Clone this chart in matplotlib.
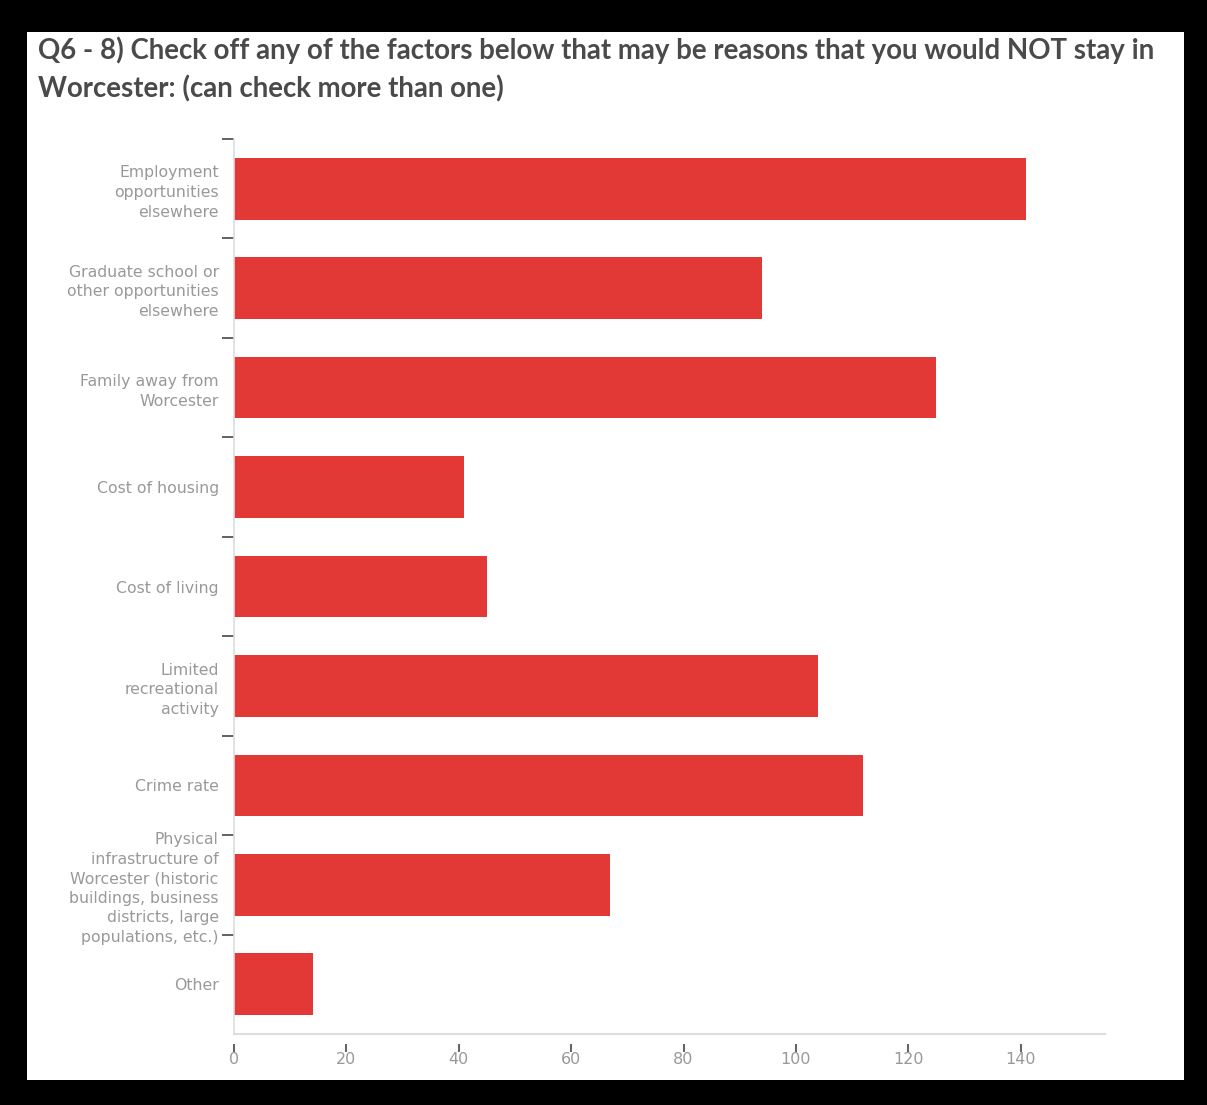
import matplotlib
matplotlib.use("Agg")
import matplotlib.pyplot as plt
from matplotlib.patches import Rectangle
import numpy as np

title = "Q6 - 8) Check off any of the factors below that may be reasons that you would NOT stay in\nWorcester: (can check more than one)"
categories = [
    "Employment\nopportunities\nelsewhere",
    "Graduate school or\nother opportunities\nelsewhere",
    "Family away from\nWorcester",
    "Cost of housing",
    "Cost of living",
    "Limited\nrecreational\nactivity",
    "Crime rate",
    "Physical\ninfrastructure of\nWorcester (historic\nbuildings, business\ndistricts, large\npopulations, etc.)",
    "Other",
]
values = [141, 94, 125, 41, 45, 104, 112, 67, 14]
xticks = [0, 20, 40, 60, 80, 100, 120, 140]

W, H = 1207, 1105
fig = plt.figure(figsize=(W / 100, H / 100), dpi=100, facecolor="black")
# white card
fig.patches.append(Rectangle((27 / W, 1 - 1080 / H), (1184 - 27) / W, (1080 - 32) / H,
                             transform=fig.transFigure, facecolor="white", edgecolor="none", zorder=-10))

fig.text(38 / W, 1 - 36 / H, title, ha="left", va="top", fontsize=19.9, family="Lato",
         weight="bold", color="#4a4a4a", linespacing=1.55)

ax = fig.add_axes([234 / W, 1 - 1034 / H, (1105 - 234) / W, (1034 - 139) / H])
ax.set_facecolor("white")
pos = np.arange(len(categories))
ax.barh(pos, values, height=0.62, color="#e33936")
ax.set_ylim(len(categories) - 0.5, -0.5)
ax.set_xlim(0, 155)

# y ticks: marks at boundaries, labels at centers
ax.set_yticks(np.arange(len(categories)) - 0.5)
ax.set_yticklabels([])
ax.set_yticks(pos, minor=True)
ax.set_yticklabels(categories, minor=True, fontsize=11.3, color="#999999",
                   family="DejaVu Sans", linespacing=1.38)
ax.tick_params(axis="y", which="major", length=9, width=1.3, color="#555555", direction="out")
ax.tick_params(axis="y", which="minor", length=0, pad=11)

ax.set_xticks(xticks)
ax.set_xticklabels([str(v) for v in xticks], family="DejaVu Sans")
ax.tick_params(axis="x", length=6, width=1.5, color="#666666", pad=0,
               labelcolor="#999999", labelsize=11.5)
ax.xaxis.get_major_ticks()[0].tick1line.set_visible(False)

for s in ["top", "right"]:
    ax.spines[s].set_visible(False)
ax.spines["left"].set_color("#dddddd")
ax.spines["left"].set_linewidth(1.2)
ax.spines["bottom"].set_position(("outward", 7))
ax.spines["bottom"].set_visible(False)
ax.axhline(len(categories) - 0.5, color="#dddddd", linewidth=1.5, clip_on=False)

fig.savefig("out.png", dpi=100, facecolor="black")
